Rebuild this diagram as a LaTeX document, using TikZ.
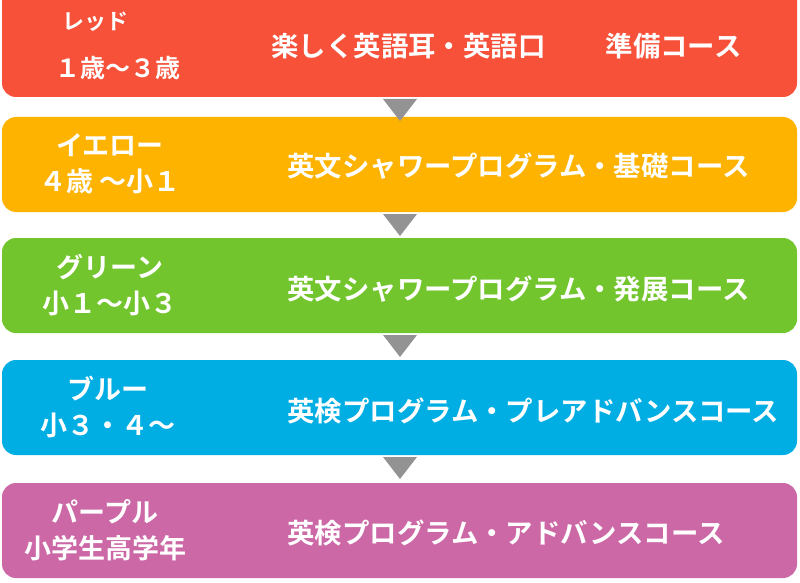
\documentclass[tikz,border=0pt]{standalone}
\usepackage{fontspec}
\newfontfamily\jp{Noto Sans CJK JP Bold}
\begin{document}
\begin{tikzpicture}[x=1pt,y=-1pt,
 bar/.style={rounded corners=14pt,draw=none},
 tri/.style={fill=gray!85,draw=none},
 lab/.style={text=white,font=\jp\fontsize{27}{36}\selectfont,align=center},
 crs/.style={text=white,font=\jp\fontsize{27.4}{30}\selectfont,anchor=west}]
\useasboundingbox (0,0) rectangle (800,583);
\definecolor{cr}{HTML}{F7513A}\definecolor{cy}{HTML}{FDB300}
\definecolor{cg}{HTML}{72C52D}\definecolor{cb}{HTML}{00AEE3}\definecolor{cp}{HTML}{CC68A6}
\fill[bar,cr] (2,-14) rectangle (797,97);
\fill[bar,cy] (2,117) rectangle (797,212);
\fill[bar,cg] (2,238) rectangle (797,333);
\fill[bar,cb] (2,360) rectangle (797,455);
\fill[bar,cp] (2,483) rectangle (797,578);
\foreach \y in {97,212,333,455}{\fill[tri] (383,\y+2) -- (417,\y+2) -- (400,\y+24) -- cycle;}
\node[text=white,font=\jp\fontsize{22}{48}\selectfont,align=left,anchor=west] (l1) at (52,46) {\hspace{0.3em}レッド\\{\fontsize{25}{30}\selectfont １歳～３歳}};
\node[crs] (c1) at (268,46) {楽しく英語耳・英語口\hspace{2.2em}準備コース};
\node[lab] (l2) at (110,164) {イエロー\\４歳 ～小１};
\node[crs] (c2) at (284,166) {英文シャワープログラム・基礎コース};
\node[lab] (l3) at (110,285) {グリーン\\小１～小３};
\node[crs] (c3) at (284,289) {英文シャワープログラム・発展コース};
\node[lab] (l4) at (108,407) {ブルー\\小３・４～};
\node[crs] (c4) at (284,411) {英検プログラム・プレアドバンスコース};
\node[lab] (l5) at (105,530) {パープル\\小学生高学年};
\node[crs] (c5) at (284,533) {英検プログラム・アドバンスコース};
\end{tikzpicture}
\end{document}
